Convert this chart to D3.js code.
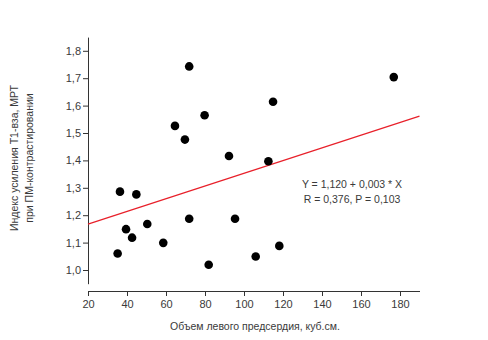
<!DOCTYPE html>
<html>
<head>
<meta charset="utf-8">
<script src="https://cdn.jsdelivr.net/npm/d3@7"></script>
<style>
  body { margin: 0; background: #fff; }
  svg text { font-family: "Liberation Sans", Arial, sans-serif; fill: #3a3a3a; }
</style>
</head>
<body>
<div id="chart"></div>
<script>
// Объем левого предсердия (x) vs индекс усиления (y)
const volumes = [35.2, 36.4, 39.5, 42.6, 44.8, 50.4, 58.6, 64.6, 69.7, 71.9, 71.9, 79.8, 81.9, 92.3, 95.4, 106, 112.5, 114.9, 118.1, 176.8]
const indexes = [1.06, 1.286, 1.149, 1.118, 1.276, 1.168, 1.099, 1.526, 1.476, 1.743, 1.187, 1.565, 1.019, 1.416, 1.187, 1.049, 1.397, 1.614, 1.088, 1.704]
const xTicks = [20, 40, 60, 80, 100, 120, 140, 160, 180]
const yTicks = [1.0, 1.1, 1.2, 1.3, 1.4, 1.5, 1.6, 1.7, 1.8]
const lineIntercept = 1.121 // fit line as drawn
const lineSlope = 0.00232
const fitLabels = ['Y = 1,120 + 0,003 * X', 'R = 0,376, P = 0,103']

const width = 488, height = 340
const svg = d3.select('#chart').append('svg')
    .attr('width', width)
    .attr('height', height)

const x = d3.scaleLinear().domain([20, 190]).range([88, 419.5])
const y = d3.scaleLinear().domain([0.95, 1.85]).range([283.7, 37.1])
const fmt = d => d3.format('.1f')(d).replace('.', ',')

// y axis (offset from x axis, Origin style)
const yAxisG = svg.append('g').attr('transform', 'translate(88,0)')
yAxisG.call(d3.axisLeft(y).tickValues(d3.range(0.95, 1.851, 0.05)).tickSize(2.5).tickFormat(''))
yAxisG.call(d3.axisLeft(y).tickValues(yTicks).tickSize(5).tickFormat(fmt).tickSizeOuter(0))
yAxisG.selectAll('.domain').attr('stroke', '#333')
yAxisG.selectAll('line').attr('stroke', '#333')
yAxisG.selectAll('text').attr('font-size', 11).attr('fill', '#3a3a3a').attr('x', -7)

// x axis
const xAxisG = svg.append('g').attr('transform', 'translate(0,291)')
xAxisG.call(d3.axisBottom(x).tickValues(d3.range(20, 191, 10)).tickSize(2.5).tickFormat(''))
xAxisG.call(d3.axisBottom(x).tickValues(xTicks).tickSize(5).tickFormat(d => d).tickSizeOuter(0))
xAxisG.selectAll('.domain').attr('stroke', '#333')
xAxisG.selectAll('line').attr('stroke', '#333')
xAxisG.selectAll('text').attr('font-size', 11).attr('fill', '#3a3a3a').attr('y', 9)

// regression line
svg.append('line')
    .attr('x1', x(20)).attr('y1', y(lineIntercept + lineSlope * 20))
    .attr('x2', x(190)).attr('y2', y(lineIntercept + lineSlope * 190))
    .attr('stroke', '#e8202a')
    .attr('stroke-width', 1.2)

// points
svg.append('g').selectAll('circle')
    .data(volumes.map((v, i) => [v, indexes[i]]))
    .enter()
    .append('circle')
    .attr('cx', d => x(d[0]))
    .attr('cy', d => y(d[1]))
    .attr('r', 4.3)
    .attr('fill', '#000')

// fit text
svg.append('g').selectAll('text')
    .data(fitLabels)
    .enter()
    .append('text')
    .attr('x', 352)
    .attr('y', (d, i) => 188 + i * 15)
    .attr('text-anchor', 'middle')
    .attr('font-size', 10.5)
    .text(d => d)

// axis titles
svg.append('text')
    .attr('x', 255).attr('y', 330)
    .attr('text-anchor', 'middle')
    .attr('font-size', 10.5)
    .text('Объем левого предсердия, куб.см.')

const yTitle = svg.append('text')
    .attr('transform', 'translate(15,158) rotate(-90)')
    .attr('text-anchor', 'middle')
    .attr('font-size', 10.5)
yTitle.append('tspan').attr('x', 0).attr('dy', 3).text('Индекс усиления Т1-вза, МРТ')
yTitle.append('tspan').attr('x', 0).attr('dy', 15).text('при ПМ-контрастировании')
</script>
</body>
</html>
